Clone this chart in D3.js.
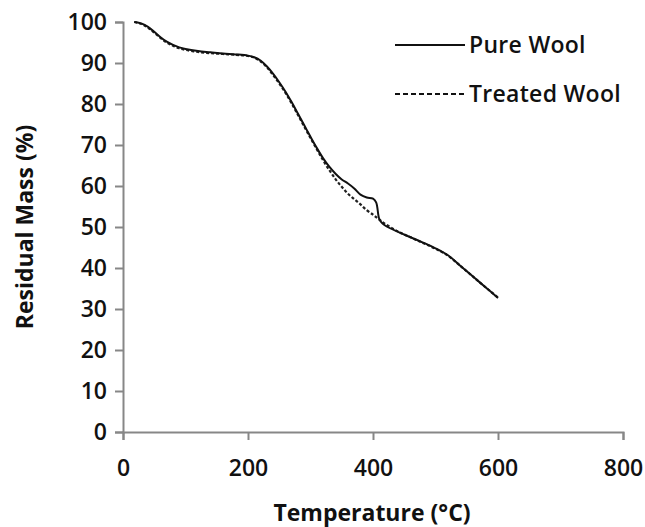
<!DOCTYPE html>
<html lang="en">
<head>
<meta charset="UTF-8">
<title>TGA wool</title>
<script src="https://cdn.jsdelivr.net/npm/d3@7"></script>
<style>
  body { margin: 0; background: #fff; }
  text { font-family: "Open Sans", sans-serif; fill: #111; }
  .tick text { font-size: 23px; font-weight: 600; }
  .lab { font-size: 23px; font-weight: 700; }
  .leg { font-size: 23px; font-weight: 600; letter-spacing: 0.3px; }
</style>
</head>
<body>
<svg width="645" height="527"></svg>
<script>
// temperature (°C) and residual mass (%)
const temps = [18, 30, 40, 50, 60, 70, 80, 90, 100, 120, 140, 160, 180, 200, 210, 220, 230, 240, 250, 260,
  270, 280, 290, 300, 310, 320, 330, 340, 350, 360, 370, 380, 390, 400, 405, 410, 415, 420,
  440, 460, 480, 500, 520, 540, 560, 580, 600];
const pureWool = [100, 99.6, 98.8, 97.6, 96.3, 95.2, 94.4, 93.8, 93.4, 92.9, 92.6, 92.3, 92.1, 91.8, 91.4, 90.6, 89.2, 87.4, 85.3, 83,
  80.4, 77.6, 74.8, 72, 69.3, 66.8, 64.7, 63, 61.6, 60.6, 59.4, 57.9, 57.2, 56.9, 56, 52, 50.9, 50.3,
  48.8, 47.5, 46.2, 44.8, 43.1, 40.5, 37.9, 35.3, 32.7];
const treatedWool = [100, 99.5, 98.6, 97.4, 96.1, 95.0, 94.2, 93.6, 93.2, 92.7, 92.4, 92.2, 92.0, 91.7, 91.3, 90.4, 89.0, 87.1, 85.0, 82.7,
  80.1, 77.3, 74.5, 71.7, 69.0, 66.3, 63.9, 61.7, 59.8, 58.1, 56.8, 55.5, 54.1, 53.0, 52.4, 51.8, 51.2, 50.7,
  48.9, 47.5, 46.1, 44.7, 43.0, 40.5, 37.9, 35.3, 32.8];
const xTicks = [0, 200, 400, 600, 800];
const yTicks = [0, 10, 20, 30, 40, 50, 60, 70, 80, 90, 100];

const svg = d3.select("svg");
const x = d3.scaleLinear().domain([0, 800]).range([123, 623]);
const y = d3.scaleLinear().domain([0, 100]).range([432, 22]);
const axisColor = "#878787";

// y axis
const gy = svg.append("g").attr("transform", "translate(123,0)")
  .call(d3.axisLeft(y).tickValues(yTicks).tickSize(8).tickPadding(8));
// x axis
const gx = svg.append("g").attr("transform", "translate(0,432)")
  .call(d3.axisBottom(x).tickValues(xTicks).tickSize(8).tickPadding(20));
[gx, gy].forEach(g => {
  g.select(".domain").attr("stroke", axisColor).attr("stroke-width", 2);
  g.selectAll(".tick line").attr("stroke", axisColor).attr("stroke-width", 2);
  g.selectAll(".tick text").attr("font-family", null).attr("font-size", null);
});

const line = d3.line().x((d, i) => x(temps[i])).y(d => y(d)).curve(d3.curveCatmullRom);

svg.append("path").datum(treatedWool).attr("d", line)
  .attr("fill", "none").attr("stroke", "#222").attr("stroke-width", 2.2)
  .attr("stroke-dasharray", "3,2");
svg.append("path").datum(pureWool).attr("d", line)
  .attr("fill", "none").attr("stroke", "#111").attr("stroke-width", 2);

// axis titles
svg.append("text").attr("class", "lab").attr("x", 372).attr("y", 521)
  .attr("text-anchor", "middle").text("Temperature (°C)");
svg.append("text").attr("class", "lab")
  .attr("transform", "translate(33,227) rotate(-90)")
  .attr("text-anchor", "middle").text("Residual Mass (%)");

// legend
const legend = [{ name: "Pure Wool", dash: null, yy: 45 }, { name: "Treated Wool", dash: "5,3", yy: 94 }];
legend.forEach(l => {
  svg.append("line").attr("x1", 395).attr("x2", 465).attr("y1", l.yy).attr("y2", l.yy)
    .attr("stroke", "#111").attr("stroke-width", 2).attr("stroke-dasharray", l.dash);
  svg.append("text").attr("class", "leg").attr("x", 469).attr("y", l.yy)
    .attr("dy", "0.35em").text(l.name);
});
</script>
</body>
</html>
